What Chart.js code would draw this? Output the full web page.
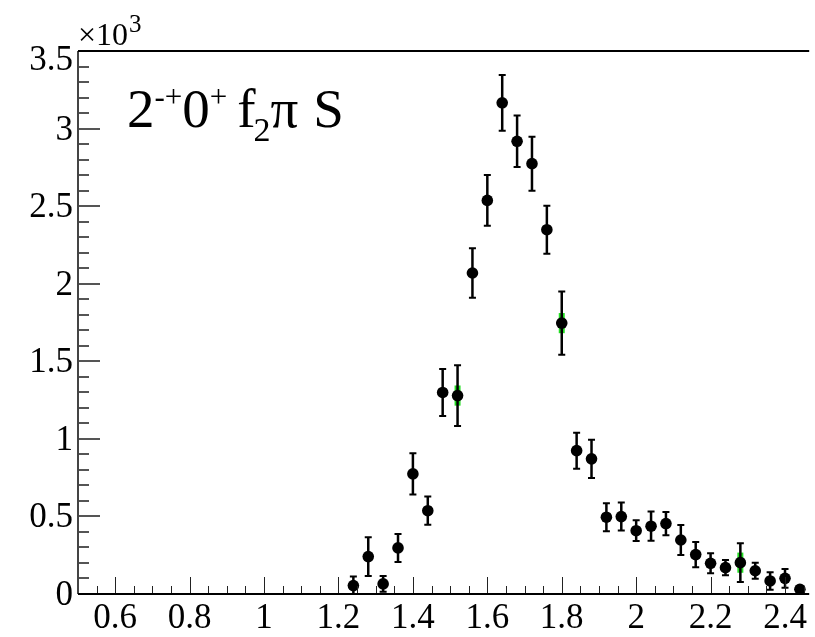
<!DOCTYPE html>
<html>
<head>
<meta charset="utf-8">
<script src="https://cdn.jsdelivr.net/npm/chart.js@4.4.1/dist/chart.umd.min.js"></script>
<style>
  html, body { margin: 0; padding: 0; background: #fff; }
  #wrap { width: 815px; height: 637px; }
</style>
</head>
<body>
<div id="wrap"><canvas id="chart" width="815" height="637"></canvas></div>
<script>
// Bin centres (GeV) and fitted intensities
const massBins = [1.24, 1.28, 1.32, 1.36, 1.40, 1.44, 1.48, 1.52, 1.56, 1.60, 1.64,
  1.68, 1.72, 1.76, 1.80, 1.84, 1.88, 1.92, 1.96, 2.00, 2.04, 2.08, 2.12, 2.16,
  2.20, 2.24, 2.28, 2.32, 2.36, 2.40, 2.44];
const intensity = [54, 241, 65, 297, 774, 537, 1299, 1279, 2069, 2537, 3166,
  2918, 2774, 2348, 1746, 924, 871, 495, 499, 408, 437, 454, 348, 254,
  198, 170, 202, 150, 84, 101, 30];
const statErr = [58, 125, 51, 90, 133, 91, 151, 196, 159, 164, 180,
  166, 174, 155, 204, 116, 124, 90, 90, 67, 94, 75, 97, 81,
  64, 49, 125, 52, 56, 60, 20];
// green (systematic) bars, mostly hidden behind the markers
const sysErr = [10, 20, 10, 20, 25, 20, 25, 65, 25, 25, 25,
  25, 25, 25, 65, 20, 20, 20, 20, 15, 20, 15, 20, 15,
  15, 15, 65, 15, 10, 10, 5];

// Axis ticks
const xTickValues = [0.6, 0.8, 1.0, 1.2, 1.4, 1.6, 1.8, 2.0, 2.2, 2.4];
const xTickLabels = ['0.6', '0.8', '1', '1.2', '1.4', '1.6', '1.8', '2', '2.2', '2.4'];
const yTickValues = [0, 500, 1000, 1500, 2000, 2500, 3000, 3500];
const yTickLabels = ['0', '0.5', '1', '1.5', '2', '2.5', '3', '3.5'];

const SERIF = '"Liberation Serif", "Times New Roman", serif';

// Error bars drawn under the markers
const errorBarPlugin = {
  id: 'errorBars',
  beforeDatasetsDraw(chart) {
    const ctx = chart.ctx;
    const xs = chart.scales.x, ys = chart.scales.y;
    ctx.save();
    // green bars
    ctx.strokeStyle = '#22dd22';
    ctx.lineWidth = 6;
    massBins.forEach((m, i) => {
      const px = xs.getPixelForValue(m);
      ctx.beginPath();
      ctx.moveTo(px, ys.getPixelForValue(intensity[i] - sysErr[i]));
      ctx.lineTo(px, ys.getPixelForValue(intensity[i] + sysErr[i]));
      ctx.stroke();
    });
    // black bars with caps
    ctx.strokeStyle = '#000';
    massBins.forEach((m, i) => {
      const px = xs.getPixelForValue(m);
      const lo = ys.getPixelForValue(Math.max(0, intensity[i] - statErr[i]));
      const hi = ys.getPixelForValue(intensity[i] + statErr[i]);
      ctx.lineWidth = 2.5;
      ctx.beginPath();
      ctx.moveTo(px, lo);
      ctx.lineTo(px, hi);
      ctx.stroke();
      ctx.lineWidth = 2;
      ctx.beginPath();
      ctx.moveTo(px - 3.5, hi); ctx.lineTo(px + 3.5, hi);
      ctx.moveTo(px - 3.5, lo); ctx.lineTo(px + 3.5, lo);
      ctx.stroke();
    });
    ctx.restore();
  }
};

// ROOT-style frame, inward ticks, labels and title
const framePlugin = {
  id: 'rootFrame',
  afterDraw(chart) {
    const ctx = chart.ctx;
    const xs = chart.scales.x, ys = chart.scales.y;
    const a = chart.chartArea;
    ctx.save();

    // x ticks (major 0.2, minor 0.05)
    ctx.strokeStyle = '#222';
    ctx.lineWidth = 1;
    for (let k = 1; k <= 40; k++) {
      const v = 0.5 + k * 0.05;
      if (v > xs.max) break;
      const major = k % 4 === 2;
      const px = Math.round(xs.getPixelForValue(v)) + 0.5;
      ctx.beginPath();
      ctx.moveTo(px, a.bottom);
      ctx.lineTo(px, a.bottom - (major ? 17 : 8));
      ctx.stroke();
    }

    // y ticks (major 500, minor 100)
    ctx.strokeStyle = '#555';
    ctx.lineWidth = 2;
    for (let v = 0; v <= 3500; v += 100) {
      const py = Math.round(ys.getPixelForValue(v));
      const major = v % 500 === 0;
      ctx.beginPath();
      ctx.moveTo(a.left, py);
      ctx.lineTo(a.left + (major ? 22 : 11), py);
      ctx.stroke();
    }

    // axis lines
    ctx.strokeStyle = '#444';
    ctx.lineWidth = 2;
    ctx.beginPath();
    ctx.moveTo(a.left, a.top);
    ctx.lineTo(a.left, a.bottom);
    ctx.stroke();
    ctx.strokeStyle = '#000';
    ctx.beginPath();
    ctx.moveTo(a.left, a.bottom);
    ctx.lineTo(a.right, a.bottom);
    ctx.moveTo(a.left, a.top);
    ctx.lineTo(a.right, a.top);
    ctx.stroke();

    // tick labels
    ctx.fillStyle = '#000';
    ctx.font = '35px ' + SERIF;
    ctx.textAlign = 'center';
    ctx.textBaseline = 'alphabetic';
    xTickValues.forEach((v, i) => {
      ctx.fillText(xTickLabels[i], xs.getPixelForValue(v), 628);
    });
    ctx.textAlign = 'right';
    yTickValues.forEach((v, i) => {
      const py = ys.getPixelForValue(v);
      ctx.fillText(yTickLabels[i], 73, Math.max(py + 11, 70));
    });

    // exponent
    ctx.textAlign = 'left';
    ctx.font = '32px ' + SERIF;
    ctx.fillText('\u00d710', 78, 45);
    ctx.font = '25px ' + SERIF;
    ctx.fillText('3', 129, 32);

    // title: 2^{-+}0^{+} f_{2}pi S
    const base = 127;
    let x = 127;
    const big = '55px ' + SERIF;
    const sup = '31px ' + SERIF;
    const piece = (txt, font, dy) => {
      ctx.font = font;
      ctx.fillText(txt, x, base + dy);
      x += ctx.measureText(txt).width;
    };
    piece('2', big, 0);
    piece('-+', sup, -20);
    piece('0', big, 0);
    piece('+', sup, -20);
    x += 10;
    piece('f', big, 0);
    x -= 2;
    piece('2', '34px ' + SERIF, 14);
    piece('\u03c0', big, 0);
    x += 15;
    piece('S', big, 0);

    ctx.restore();
  }
};

const points = massBins.map((m, i) => ({ x: m, y: intensity[i] }));

new Chart(document.getElementById('chart'), {
  type: 'scatter',
  data: {
    datasets: [{
      data: points,
      pointRadius: 5.8,
      pointHoverRadius: 5.8,
      pointBackgroundColor: '#000',
      pointBorderColor: '#000',
      pointBorderWidth: 0,
      showLine: false
    }]
  },
  options: {
    responsive: false,
    animation: false,
    events: [],
    layout: { padding: { top: 51, right: 0, left: 0, bottom: 0 } },
    plugins: {
      legend: { display: false },
      tooltip: { enabled: false }
    },
    scales: {
      x: {
        type: 'linear',
        min: 0.5,
        max: 2.465,
        grid: { display: false, drawTicks: false },
        border: { display: false },
        ticks: { display: false },
        afterFit: s => { s.height = 43; }
      },
      y: {
        type: 'linear',
        min: 0,
        max: 3500,
        grid: { display: false, drawTicks: false },
        border: { display: false },
        ticks: { display: false },
        afterFit: s => { s.width = 78; }
      }
    }
  },
  plugins: [errorBarPlugin, framePlugin]
});
</script>
</body>
</html>
